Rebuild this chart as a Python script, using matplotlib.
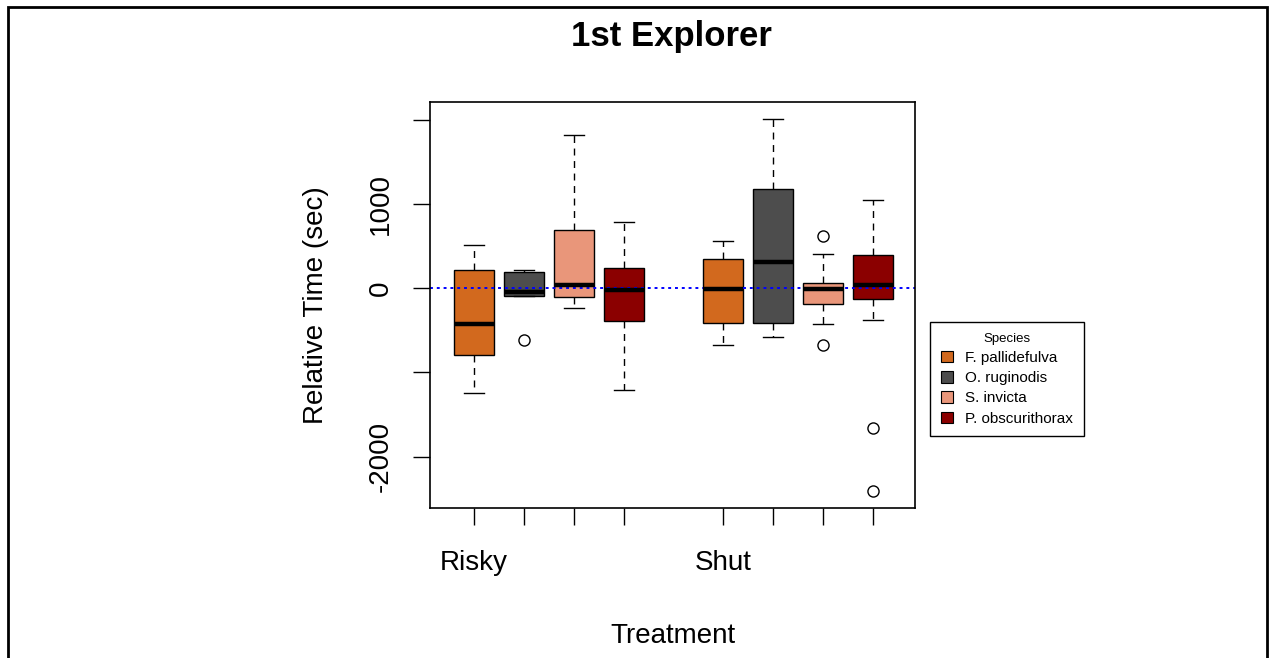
import matplotlib
matplotlib.use("Agg")
import matplotlib.pyplot as plt
from matplotlib.patches import Rectangle, Patch

plt.rcParams['font.family'] = ['Liberation Sans', 'DejaVu Sans']

# data
treatments = ["Risky", "Shut"]
species = ["F. pallidefulva", "O. ruginodis", "S. invicta", "P. obscurithorax"]
colors = ["#D2691E", "#4D4D4D", "#E9967A", "#8B0000"]

positions = [1, 2, 3, 4, 6, 7, 8, 9]
whislo = [-1250, -90, -230, -1210, -680, -575, -425, -375]
q1 = [-790, -90, -105, -385, -410, -410, -190, -130]
med = [-425, -45, 35, -20, -10, 310, -5, 40]
q3 = [215, 195, 685, 235, 345, 1175, 65, 390]
whishi = [515, 215, 1815, 790, 555, 2005, 410, 1045]
fliers = [[], [-610], [], [], [], [], [620, -680], [-1665, -2410]]

fig = plt.figure(figsize=(12.74, 6.58), dpi=100)
ax = fig.add_axes([430 / 1274, 1 - 508 / 658, 485 / 1274, 406 / 658])

# build box stats for bxp
stats = []
for i in range(len(positions)):
    stats.append(dict(whislo=whislo[i], q1=q1[i], med=med[i], q3=q3[i],
                      whishi=whishi[i], fliers=fliers[i]))

bp = ax.bxp(stats, positions=positions, widths=0.8, patch_artist=True,
            showfliers=True,
            boxprops=dict(edgecolor="black", linewidth=1),
            medianprops=dict(color="black", linewidth=3.2, solid_capstyle="butt"),
            whiskerprops=dict(color="black", linewidth=1, linestyle=(0, (5, 4))),
            capprops=dict(color="black", linewidth=1),
            flierprops=dict(marker="o", markerfacecolor="none",
                            markeredgecolor="black", markersize=8),
            capwidths=0.4)
for k, box in enumerate(bp["boxes"]):
    box.set_facecolor(colors[k % 4])

ax.axhline(0, color="blue", linestyle=(0, (1.5, 2)), linewidth=1.4)

ax.set_xlim(0.12, 9.84)
ax.set_ylim(-2610, 2210)

ax.set_xticks(positions)
ax.set_xticklabels(["Risky", "", "", "", "Shut", "", "", ""], fontsize=20)
ax.tick_params(axis="x", length=12, width=1, pad=18)
ax.set_yticks([-2000, -1000, 0, 1000, 2000])
ax.set_yticklabels(["-2000", "", "0", "1000", ""], fontsize=20,
                   rotation=90, va="center")
ax.tick_params(axis="y", length=12, width=1, pad=14)
for s in ax.spines.values():
    s.set_linewidth(1.2)

ax.set_ylabel("Relative Time (sec)", fontsize=20, labelpad=28)
ax.set_xlabel("Treatment", fontsize=20, labelpad=34)
fig.text(0.527, 0.945, "1st Explorer", fontsize=25, fontweight="bold",
         ha="center", va="center")

handles = [Patch(facecolor=c, edgecolor="black", linewidth=0.8) for c in colors]
leg = fig.legend(handles, species, title="Species", loc="upper left",
                 bbox_to_anchor=(930 / 1274, 1 - 322 / 658), borderaxespad=0,
                 fontsize=11, title_fontsize=9.5,
                 handlelength=0.8, handleheight=0.8, handletextpad=0.8,
                 labelspacing=0.4, borderpad=0.7, fancybox=False,
                 framealpha=1, edgecolor="black")
leg.get_frame().set_linewidth(1)

# outer frame of the image
fig.patches.append(Rectangle((8 / 1274, -0.02), 1259 / 1274, 1.02 - 7 / 658,
                             transform=fig.transFigure, fill=False,
                             edgecolor="black", linewidth=2))

fig.savefig("out.png", dpi=100)
